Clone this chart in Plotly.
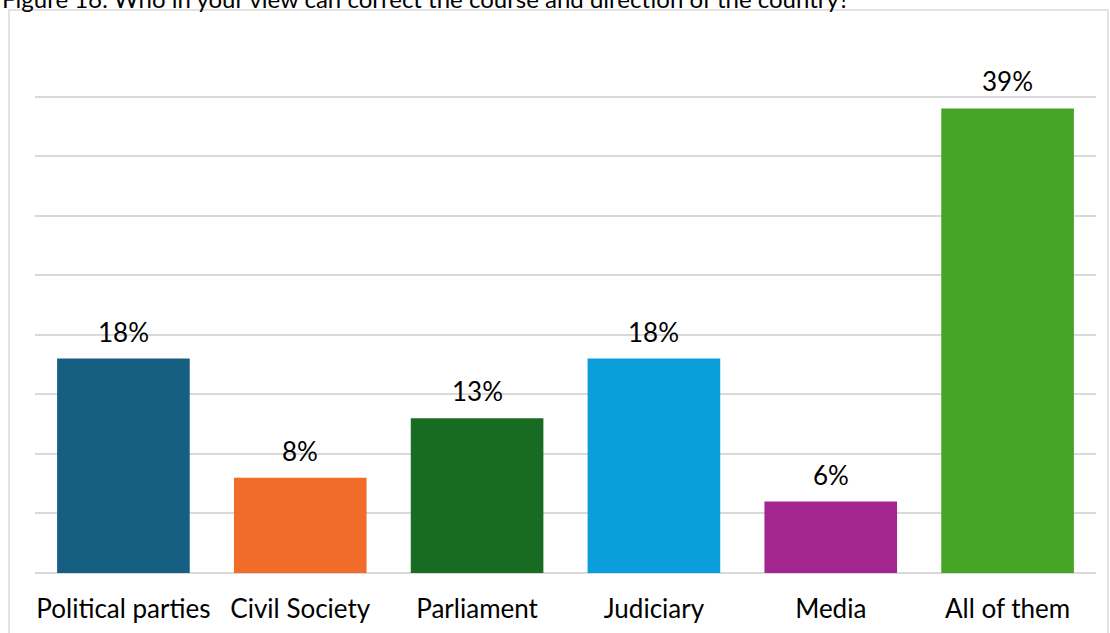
import plotly.graph_objects as go

categories = ["Political parties", "Civil Society", "Parliament", "Judiciary", "Media", "All of them"]
values = [18, 8, 13, 18, 6, 39]
labels = ["18%", "8%", "13%", "18%", "6%", "39%"]
colors = ["#165f83", "#f06c28", "#196b23", "#0a9edb", "#a3268f", "#46a426"]
title_text = "Figure 16: Who in your view can correct the course and direction of the country?"

FONT = "Lato, Carlito, 'Liberation Sans', sans-serif"
FS = 26

fig = go.Figure()
fig.add_trace(go.Bar(
    x=categories, y=values,
    marker=dict(color=colors, line=dict(width=0)),
    hoverinfo="skip",
))

for c, v, t in zip(categories, values, labels):
    fig.add_annotation(x=c, y=v, text=t, showarrow=False, yshift=27,
                       font=dict(family=FONT, size=FS, color="#000000"))

# outer chart border
fig.add_shape(type="rect", xref="paper", yref="paper",
              x0=-0.0245, x1=1.0113, y0=-0.13, y1=1.0504,
              line=dict(color="#d9d9d9", width=1.5), fillcolor="rgba(0,0,0,0)", layer="below")

fig.add_annotation(xref="paper", yref="paper", x=-0.033, y=1.071, xanchor="left", yanchor="middle",
                   text=title_text, showarrow=False,
                   font=dict(family=FONT, size=24, color="#000000"))

fig.update_layout(
    width=1110, height=633,
    margin=dict(l=35, r=14, t=37, b=60, autoexpand=False),
    paper_bgcolor="white", plot_bgcolor="white",
    bargap=0.25,
    showlegend=False,
    xaxis=dict(showgrid=False, showline=False, ticks="", automargin=False,
               tickfont=dict(family=FONT, size=FS, color="#000000"),
               ticklabelstandoff=18),
    yaxis=dict(range=[0, 45], dtick=5, showgrid=True, gridcolor="#d9d9d9", gridwidth=1.5,
               zeroline=True, zerolinecolor="#d9d9d9", zerolinewidth=1.5, automargin=False,
               showticklabels=False, showline=False, fixedrange=True),
)

fig.write_html("out.html", config={"displayModeBar": False},
               post_script="document.body.style.margin='0';")
